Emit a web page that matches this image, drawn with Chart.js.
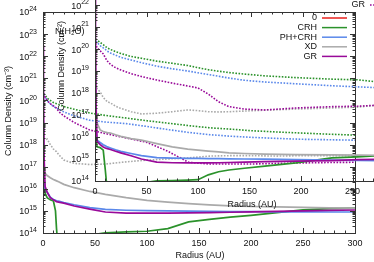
<!DOCTYPE html>
<html><head><meta charset="utf-8">
<script src="https://cdn.jsdelivr.net/npm/chart.js@4"></script>
<style>
html,body{margin:0;padding:0;background:#fff;overflow:hidden;width:374px;height:262px;}
#wrap{position:relative;width:374px;height:262px;overflow:hidden;background:#fff;}
#main{position:absolute;left:0;top:0;width:374px;height:262px;}
#inset{position:absolute;left:0;top:-60px;width:420px;height:300px;}
</style></head><body>
<div id="wrap"><canvas id="main" width="374" height="262"></canvas><canvas id="inset" width="420" height="300"></canvas></div>
<script>
// ---------- data (values are log10 of column density) ----------
const legendLabels = ['0', 'CRH', 'PH+CRH', 'XD', 'GR'];
const xTicksMain = [0, 50, 100, 150, 200, 250, 300];
const yDecadesMain = [14, 15, 16, 17, 18, 19, 20, 21, 22, 23, 24];
const yDecadesInset = [14, 15, 16, 17, 18, 19, 20, 21, 22, 23, 24];

// main panel
const rMain = [0, 0.5, 1, 2, 4, 7, 10, 12, 13, 15, 20, 30, 45, 60, 80, 100, 120, 140, 160, 180, 200, 225, 250, 275, 300];
const mainGRsolid   = [22.5, 20.2, 17.5, 16.1, 15.85, 15.6, 15.5, 15.45, 15.42, 15.4, 15.35, 15.22, 15.08, 14.95, 14.9, 14.9, 14.9, 14.91, 14.92, 14.94, 14.96, 14.98, 15.0, 15.02, 15.04];
const mainPHsolid   = [19.0, 17.5, 16.5, 16.0, 15.85, 15.62, 15.52, 15.48, 15.46, 15.44, 15.38, 15.28, 15.15, 15.07, 15.03, 15.01, 15.0, 14.99, 14.98, 14.97, 14.97, 14.96, 14.96, 14.95, 14.95];
const mainCRHsolid  = [19.0, 17.0, 16.2, 15.8, 15.6, 15.5, 15.45, 15.0, 14.2, 13.0, 13.0, 13.0, 13.9, 14.01, 14.05, 14.08, 14.2, 14.5, 14.62, 14.72, 14.8, 14.92, 15.05, 15.1, 15.13];
const mainXDsolid   = [18.5, 17.5, 16.9, 16.7, 16.6, 16.5, 16.42, 16.38, 16.36, 16.32, 16.2, 16.05, 15.88, 15.75, 15.6, 15.48, 15.4, 15.33, 15.27, 15.23, 15.2, 15.18, 15.16, 15.14, 15.13];
const mainGRdot     = [13.0, 20.3, 20.2, 20.15, 20.0, 19.85, 19.75, 19.68, 19.65, 19.5, 19.3, 19.0, 18.66, 18.5, 18.3, 18.1, 17.7, 17.2, 17.12, 17.12, 17.12, 17.15, 17.17, 17.19, 17.2];
const mainPHdot     = [20.35, 20.3, 20.2, 20.15, 20.0, 19.85, 19.72, 19.68, 19.65, 19.6, 19.48, 19.3, 19.1, 19.02, 18.95, 18.82, 18.68, 18.55, 18.45, 18.38, 18.33, 18.28, 18.24, 18.22, 18.2];
const mainCRHdot    = [20.45, 20.4, 20.3, 20.24, 20.1, 20.0, 19.9, 19.87, 19.85, 19.82, 19.72, 19.6, 19.43, 19.32, 19.2, 19.08, 18.97, 18.86, 18.76, 18.7, 18.63, 18.57, 18.52, 18.47, 18.43];
const mainXDdot     = [19.5, 18.6, 18.2, 18.2, 18.25, 18.0, 17.8, 17.72, 17.68, 17.55, 17.3, 17.15, 17.1, 17.12, 17.22, 17.3, 17.35, 17.4, 17.48, 17.5, 17.5, 17.48, 17.5, 17.5, 17.5];

// inset panel
const rInset = [0, 0.5, 1, 2, 5, 8, 10, 12, 15, 20, 25, 35, 45, 60, 75, 90, 100, 110, 120, 130, 145, 165, 195, 230, 255, 275, 300];
const insetGRsolid  = [22.8, 20.3, 17.5, 15.8, 15.65, 15.55, 15.5, 15.47, 15.43, 15.35, 15.28, 15.15, 15.0, 14.86, 14.83, 14.82, 14.82, 14.82, 14.83, 14.84, 14.86, 14.88, 14.9, 14.93, 14.97, 14.98, 14.99];
const insetPHsolid  = [19.0, 17.5, 16.3, 15.86, 15.75, 15.65, 15.6, 15.55, 15.5, 15.42, 15.35, 15.25, 15.15, 15.06, 15.04, 15.03, 15.03, 15.02, 15.02, 15.01, 15.0, 14.99, 14.97, 14.95, 14.94, 14.93, 14.93];
const insetCRHsolid = [19.0, 17.0, 16.0, 15.55, 15.52, 15.4, 14.5, 13.5, 13.0, 13.0, 13.0, 13.0, 13.9, 14.01, 14.02, 14.04, 14.06, 14.28, 14.42, 14.5, 14.58, 14.68, 14.82, 15.05, 15.1, 15.15, 15.2];
const insetXDsolid  = [19.5, 18.0, 17.0, 16.64, 16.32, 16.25, 16.22, 16.2, 16.18, 16.1, 16.03, 15.93, 15.86, 15.7, 15.55, 15.45, 15.4, 15.36, 15.32, 15.28, 15.25, 15.22, 15.2, 15.19, 15.18, 15.17, 15.16];
const insetGRdot    = [13.0, 20.3, 20.2, 20.05, 19.92, 19.78, 19.6, 19.45, 19.3, 19.15, 19.05, 18.88, 18.75, 18.59, 18.45, 18.32, 18.23, 17.95, 17.6, 17.38, 17.27, 17.23, 17.32, 17.38, 17.4, 17.45, 17.5];
const insetPHdot    = [20.5, 20.4, 20.35, 20.3, 20.15, 20.05, 19.98, 19.9, 19.82, 19.72, 19.62, 19.5, 19.38, 19.22, 19.1, 19.0, 18.92, 18.84, 18.76, 18.68, 18.58, 18.5, 18.42, 18.33, 18.28, 18.24, 18.2];
const insetCRHdot   = [20.6, 20.5, 20.45, 20.41, 20.3, 20.2, 20.12, 20.05, 19.98, 19.88, 19.8, 19.66, 19.58, 19.45, 19.35, 19.25, 19.15, 19.06, 18.99, 18.93, 18.86, 18.78, 18.7, 18.63, 18.6, 18.5, 18.45];
const insetXDdot    = [19.5, 18.8, 18.4, 18.2, 18.05, 17.8, 17.7, 17.6, 17.55, 17.4, 17.3, 17.15, 17.05, 17.08, 17.15, 17.23, 17.2, 17.15, 17.14, 17.15, 17.18, 17.22, 17.27, 17.32, 17.36, 17.45, 17.5];

// ---------- styles ----------
const COL = { red: '#e8201c', green: '#2b922b', blue: '#5a88ea', grey: '#aaaaaa', purple: '#990a99' };
const FONT = "'Liberation Sans', Arial, sans-serif";
Chart.defaults.font.family = FONT;
Chart.defaults.font.size = 9;
Chart.defaults.color = '#111';

function series(r, logs, color, dotted) {
  return {
    data: r.map((x, i) => ({ x: x, y: Math.pow(10, logs[i]) })),
    borderColor: color, backgroundColor: color,
    borderWidth: dotted ? 1.6 : 1.7,
    borderDash: dotted ? [1.6, 1.5] : [],
    pointRadius: 0, tension: 0, fill: false
  };
}

function drawFrame(chart) {
  const { ctx, chartArea: a, scales: { x, y } } = chart;
  ctx.save();
  ctx.strokeStyle = '#333'; ctx.lineWidth = 1;
  ctx.beginPath();
  for (let v = x.min; v <= x.max + 1e-9; v += 10) {
    const px = Math.round(x.getPixelForValue(v)) + 0.5;
    const L = (v % 50 === 0) ? 5 : 2.5;
    ctx.moveTo(px, a.bottom); ctx.lineTo(px, a.bottom - L);
    ctx.moveTo(px, a.top); ctx.lineTo(px, a.top + L);
  }
  const lo = Math.round(Math.log10(y.min)), hi = Math.ceil(Math.log10(y.max));
  for (let d = lo; d <= hi; d++) {
    for (let k = 1; k <= 9; k++) {
      const v = k * Math.pow(10, d);
      if (v > y.max * 1.0001) break;
      const py = Math.round(y.getPixelForValue(v)) + 0.5;
      const L = k === 1 ? 5 : 2.5;
      ctx.moveTo(a.left, py); ctx.lineTo(a.left + L, py);
      ctx.moveTo(a.right, py); ctx.lineTo(a.right - L, py);
    }
  }
  ctx.stroke();
  ctx.strokeRect(Math.round(a.left) + 0.5, Math.round(a.top) + 0.5, Math.round(a.right - a.left), Math.round(a.bottom - a.top));
  // y tick labels: "10" with raised exponent
  const decs = chart.options.scales.y.decades;
  decs.forEach(d => {
    const py = y.getPixelForValue(Math.pow(10, d));
    const xe = a.left - 6;
    ctx.font = '7px ' + FONT;
    const we = ctx.measureText(String(d)).width;
    ctx.fillStyle = '#111'; ctx.textBaseline = 'middle';
    ctx.textAlign = 'left';
    ctx.fillText(String(d), xe - we, py - 2.5);
    ctx.font = '9px ' + FONT;
    ctx.textAlign = 'right';
    ctx.fillText('10', xe - we, py + 1);
  });
  ctx.restore();
}

function text(ctx, s, x, y, align, rot) {
  ctx.save();
  ctx.font = '9px ' + FONT; ctx.fillStyle = '#111';
  ctx.textAlign = align || 'center'; ctx.textBaseline = 'middle';
  ctx.translate(x, y); if (rot) ctx.rotate(rot);
  ctx.fillText(s, 0, 0);
  ctx.restore();
}

const mainDeco = {
  id: 'mainDeco',
  afterDraw(chart) {
    const ctx = chart.ctx;
    drawFrame(chart);
    text(ctx, 'Radius (AU)', 200, 256);
    text(ctx, 'Column Density (cm⁻³)', 9, 111, 'center', -Math.PI / 2);
    // legend
    const cols = [COL.red, COL.green, COL.blue, COL.grey, COL.purple];
    legendLabels.forEach((lab, i) => {
      const yy = 18 + i * 9.6;
      text(ctx, lab, 317, yy, 'right');
      ctx.save(); ctx.strokeStyle = cols[i]; ctx.lineWidth = 1.5;
      ctx.beginPath(); ctx.moveTo(322, yy); ctx.lineTo(347, yy); ctx.stroke(); ctx.restore();
    });
    // neighbouring panel's legend fragment (top right)
    text(ctx, 'GR', 365, 5, 'right');
    ctx.save(); ctx.strokeStyle = COL.purple; ctx.lineWidth = 1.5; ctx.setLineDash([1.6, 1.5]);
    ctx.beginPath(); ctx.moveTo(370, 5); ctx.lineTo(376, 5); ctx.stroke(); ctx.restore();
  }
};

const insetDeco = {
  id: 'insetDeco',
  afterDraw(chart) {
    const ctx = chart.ctx;
    drawFrame(chart);
    text(ctx, 'Radius (AU)', 252, 265);
    text(ctx, 'Column Density (cm⁻²)', 62, 126, 'center', -Math.PI / 2);
    text(ctx, 'N(H₂O)', 55, 92, 'left');
  }
};

function datasets(r, s) {
  return [
    series(r, s.GRsolid, COL.purple, false),
    series(r, s.GRdot, COL.purple, true),
    series(r, s.XDsolid, COL.grey, false),
    series(r, s.XDdot, COL.grey, true),
    series(r, s.PHsolid, COL.blue, false),
    series(r, s.PHdot, COL.blue, true),
    series(r, s.CRHsolid, COL.green, false),
    series(r, s.CRHdot, COL.green, true)
  ];
}

function scalesFor(yMax, yDec, yWidth, xHeight) {
  return {
    x: {
      type: 'linear', min: 0, max: 300,
      grid: { display: false, drawTicks: false }, border: { display: false },
      afterBuildTicks: s => { s.ticks = xTicksMain.map(v => ({ value: v })); },
      ticks: { padding: 5, autoSkip: false, maxRotation: 0, color: '#111', callback: v => String(v) },
      afterFit: s => { s.height = xHeight; }
    },
    y: {
      type: 'logarithmic', min: 1e14, max: yMax, decades: yDec,
      grid: { display: false, drawTicks: false }, border: { display: false },
      afterBuildTicks: s => { s.ticks = yDec.map(d => ({ value: Math.pow(10, d) })); },
      ticks: { display: false },
      afterFit: s => { s.width = yWidth; }
    }
  };
}

const common = {
  responsive: false, animation: false, devicePixelRatio: 1,
  plugins: { legend: { display: false }, tooltip: { enabled: false } }
};

new Chart(document.getElementById('main'), {
  type: 'line',
  data: { datasets: datasets(rMain, {
    GRsolid: mainGRsolid, GRdot: mainGRdot, XDsolid: mainXDsolid, XDdot: mainXDdot,
    PHsolid: mainPHsolid, PHdot: mainPHdot, CRHsolid: mainCRHsolid, CRHdot: mainCRHdot }) },
  options: Object.assign({}, common, {
    layout: { padding: { left: 0, top: 12, right: 19, bottom: 0 } },
    scales: scalesFor(1e24, yDecadesMain, 43, 29)
  }),
  plugins: [mainDeco]
});

new Chart(document.getElementById('inset'), {
  type: 'line',
  data: { datasets: datasets(rInset, {
    GRsolid: insetGRsolid, GRdot: insetGRdot, XDsolid: insetXDsolid, XDdot: insetXDdot,
    PHsolid: insetPHsolid, PHdot: insetPHdot, CRHsolid: insetCRHsolid, CRHdot: insetCRHdot }) },
  options: Object.assign({}, common, {
    layout: { padding: { left: 0, top: 3, right: 16, bottom: 0 } },
    scales: scalesFor(6.6e24, yDecadesInset, 95, 59)
  }),
  plugins: [insetDeco]
});
</script></body></html>
